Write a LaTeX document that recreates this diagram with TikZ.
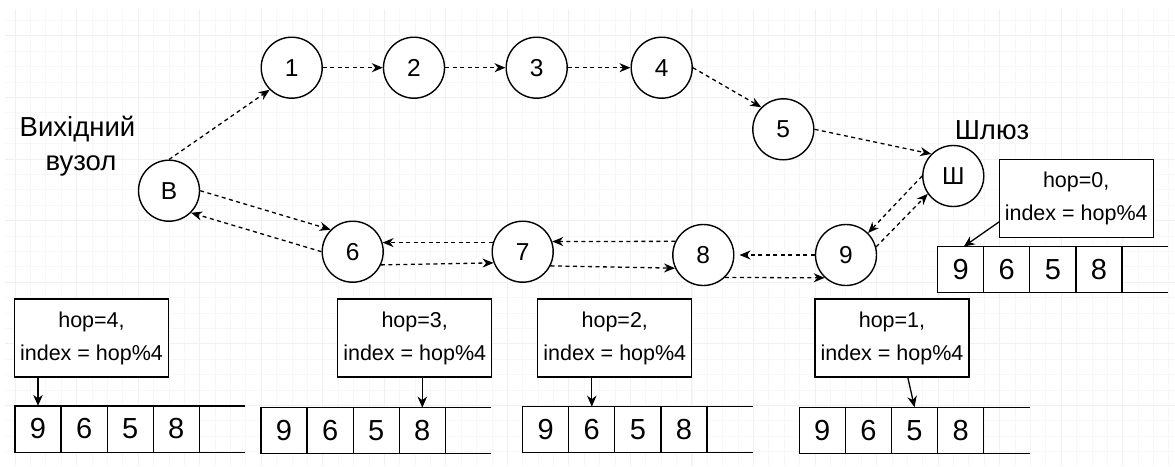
\documentclass[tikz,border=0pt]{standalone}
\usepackage{fontspec}
\setmainfont{Liberation Sans}
\usetikzlibrary{arrows.meta,calc}
\newcommand{\arrrow}[3]{%
  \foreach \v [count=\k] in {9,6,5,8} {\node[cell] (#1c\k) at ({#2+46.1*(\k-1)},#3) {\v};}
  \draw[line width=1.2pt] (#1c4.north east) -- ++(46.1,0);
  \draw[line width=1.2pt] (#1c4.south east) -- ++(46.1,0);}
\begin{document}
\begin{tikzpicture}[x=1pt,y=-1pt,
  circ/.style={circle,draw,line width=1.4pt,minimum size=61pt,inner sep=0pt,fill=white,font=\fontsize{24.5}{28}\selectfont},
  dashar/.style={line width=1.3pt,dash pattern=on 4pt off 3.5pt,-{Stealth[length=11pt,width=9pt,inset=3.5pt]}},
  solar/.style={line width=1.3pt,-{Stealth[length=11pt,width=9.5pt,inset=3.5pt]}},
  infobox/.style={rectangle,draw,line width=1.3pt,fill=white,minimum width=154pt,minimum height=78pt,inner sep=0pt,outer sep=0pt,align=center,font=\fontsize{21.5}{33}\selectfont},
  cell/.style={rectangle,draw,line width=1.2pt,fill=white,minimum width=46.1pt,minimum height=46.2pt,inner sep=0pt,outer sep=0pt,font=\fontsize{29}{32}\selectfont},
  big/.style={font=\fontsize{27.5}{34}\selectfont,inner sep=0pt,anchor=base},
  minorgrid/.style={draw=gray!6,line width=0.6pt},
  majorgrid/.style={draw=gray!12,line width=0.8pt}]
\useasboundingbox (0,0) rectangle (1175,466);
\fill[white] (0,0) rectangle (1175,466);
% grid
\begin{scope}
  \clip (5,9) rectangle (1175,466);
  \foreach \i in {0,...,76} {\draw[minorgrid] ({15+\i*15.383},9) -- ({15+\i*15.383},466);}
  \foreach \i in {0,...,29} {\draw[minorgrid] (5,{20.3+\i*15.4}) -- (1175,{20.3+\i*15.4});}
  \foreach \i in {0,...,18} {\draw[majorgrid] ({15+\i*61.53},9) -- ({15+\i*61.53},466);}
  \foreach \i in {0,...,7} {\draw[majorgrid] (5,{35.7+\i*61.6}) -- (1175,{35.7+\i*61.6});}
\end{scope}
% nodes
\node[circ] (B) at (169,190.7) {В};
\node[circ] (n1) at (291.7,67.7) {1};
\node[circ] (n2) at (414,67.7) {2};
\node[circ] (n3) at (536.7,67.7) {3};
\node[circ] (n4) at (661.7,67.7) {4};
\node[circ] (n5) at (783.3,129.3) {5};
\node[circ] (G) at (953.3,176) {Ш};
\node[circ] (n9) at (846,255) {9};
\node[circ] (n8) at (703.3,255) {8};
\node[circ] (n7) at (522.7,251.7) {7};
\node[circ] (n6) at (352.7,251.7) {6};
% labels
\node[big] (lv1) at (77.5,136) {Вихідний};
\node[big] (lv2) at (81,170) {вузол};
\node[big] (lg) at (992,139.3) {Шлюз};
% dashed connectors
\draw[dashar] (B.north) -- (n1.south west);
\draw[dashar] (n1.east) -- (n2.west);
\draw[dashar] (n2.east) -- (n3.west);
\draw[dashar] (n3.east) -- (n4.west);
\draw[dashar] (n4.east) -- (n5.north west);
\draw[dashar] (n5.east) -- (G.north west);
\draw[dashar] (G.west) -- (n9.north east);
\draw[dashar] (n9.15) -- (G.215);
\draw[dashar] (B.east) -- (n6.north west);
\draw[dashar] (n6.west) -- (B.south east);
\draw[dashar] (n7.163) -- (n6.17);
\draw[dashar] (n6.-25) -- (n7.201);
\draw[dashar] (n8.154) -- (n7.19);
\draw[dashar] (n7.-27) -- (n8.205);
\draw[dashar,shorten >=5pt] (n9.west) -- (n8.east);
\draw[dashar] (n8.-46) -- (n9.227);
% info boxes
\node[infobox] (h4) at (91.5,338) {hop=4,\\index = hop\%4};
\node[infobox] (h3) at (414.7,338) {hop=3,\\index = hop\%4};
\node[infobox] (h2) at (614.8,338) {hop=2,\\index = hop\%4};
\node[infobox] (h1) at (892,338) {hop=1,\\index = hop\%4};
\node[infobox] (h0) at (1076.2,198.8) {hop=0,\\index = hop\%4};
% arrays
\arrrow{aa}{38}{429}
\arrrow{ab}{284}{430.7}
\arrrow{ac}{545.7}{429.7}
\arrrow{ad}{822.3}{430.3}
\arrrow{ae}{960.7}{269.7}
% pointers
\draw[solar] (aac1 |- h4.south) -- (aac1.north);
\draw[solar] (abc4 |- h3.south) -- (abc4.north);
\draw[solar] (acc2 |- h2.south) -- (acc2.north);
\draw[solar] ([xshift=15.7pt]h1.south) -- (adc3.north);
\draw[solar] ([yshift=-23pt]h0.west) -- ([xshift=3pt]aec1.north);
\end{tikzpicture}
\end{document}
